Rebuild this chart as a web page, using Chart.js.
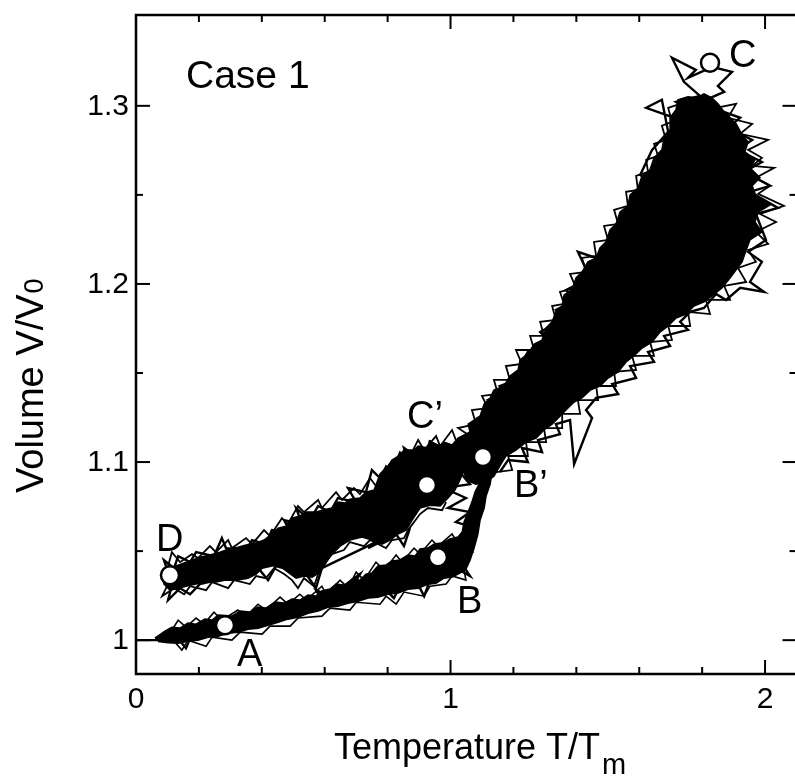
<!DOCTYPE html>
<html><head><meta charset="utf-8">
<script src="https://cdn.jsdelivr.net/npm/chart.js@4.4.1/dist/chart.umd.min.js"></script>
<style>html,body{margin:0;padding:0;background:#fff;overflow:hidden;}canvas{display:block;}</style>
</head><body><canvas id="c" width="800" height="778" style="width:800px;height:778px"></canvas>
<script>
// ---------- DATA (data units T/Tm , V/V0) ----------
const xTickLabels = ["0", "1", "2"];
const xTickValues = [0, 1, 2];
const xMinorTicks = [0.2, 0.4, 0.6, 0.8, 1.2, 1.4, 1.6, 1.8];
const yTickLabels = ["1", "1.1", "1.2", "1.3"];
const yTickValues = [1, 1.1, 1.2, 1.3];
const yMinorTicks = [1.05, 1.15, 1.25];

const markerNames = ["A", "B", "B\u2019", "C", "C\u2019", "D"];
const markerX = [0.283, 0.960, 1.103, 1.825, 0.925, 0.108];
const markerY = [1.0084, 1.0466, 1.1028, 1.3242, 1.0871, 1.0365];

// outline of the dense heating band O -> A -> B -> B'
const heatLowBand = [
 [0.060,1.0011],[0.092,1.0050],[0.114,1.0072],[0.140,1.0068],[0.165,1.0096],[0.191,1.0090],[0.219,1.0118],[0.242,1.0113],
 [0.261,1.0141],[0.305,1.0135],[0.331,1.0163],[0.362,1.0158],[0.388,1.0186],[0.413,1.0180],[0.442,1.0214],[0.471,1.0208],
 [0.496,1.0231],[0.521,1.0225],[0.547,1.0253],[0.572,1.0248],[0.591,1.0276],[0.617,1.0287],[0.636,1.0315],[0.665,1.0309],
 [0.687,1.0343],[0.712,1.0337],[0.731,1.0371],[0.750,1.0377],[0.769,1.0416],[0.795,1.0422],[0.814,1.0444],[0.839,1.0450],
 [0.865,1.0478],[0.887,1.0472],[0.903,1.0512],[0.928,1.0517],[0.948,1.0540],[0.973,1.0545],[0.998,1.0568],[1.024,1.0579],
 [1.037,1.0607],[1.043,1.0663],[1.056,1.0719],[1.068,1.0775],[1.078,1.0831],[1.094,1.0888],[1.107,1.0944],[1.132,1.0944],
 [1.126,1.0876],[1.113,1.0809],[1.107,1.0742],[1.094,1.0674],[1.087,1.0596],[1.075,1.0517],[1.062,1.0449],[1.049,1.0398],
 [1.030,1.0376],[1.005,1.0354],[0.979,1.0348],[0.954,1.0320],[0.928,1.0314],[0.897,1.0292],[0.865,1.0286],[0.833,1.0264],
 [0.801,1.0258],[0.769,1.0241],[0.738,1.0236],[0.706,1.0219],[0.674,1.0207],[0.642,1.0191],[0.610,1.0185],[0.579,1.0163],
 [0.547,1.0151],[0.515,1.0129],[0.483,1.0118],[0.452,1.0101],[0.420,1.0084],[0.388,1.0067],[0.356,1.0061],[0.324,1.0045],
 [0.293,1.0039],[0.261,1.0022],[0.229,1.0016],[0.197,1.0000],[0.165,0.9994],[0.134,0.9983],[0.102,0.9985],[0.070,0.9992]
];
// outline of the dense high-temperature band B' -> C (and back)
const hotBand = [
 [1.037,1.0955],[1.017,1.1039],[1.037,1.1124],[1.062,1.1169],[1.056,1.1213],[1.094,1.1258],[1.107,1.1326],[1.126,1.1360],
 [1.138,1.1404],[1.170,1.1427],[1.189,1.1483],[1.215,1.1517],[1.221,1.1573],[1.246,1.1607],[1.266,1.1663],[1.291,1.1685],
 [1.304,1.1753],[1.323,1.1787],[1.335,1.1843],[1.355,1.1876],[1.361,1.1938],[1.386,1.1966],[1.399,1.2034],[1.418,1.2067],
 [1.437,1.2124],[1.463,1.2146],[1.475,1.2202],[1.494,1.2236],[1.507,1.2303],[1.526,1.2337],[1.539,1.2404],[1.564,1.2438],
 [1.571,1.2500],[1.596,1.2539],[1.609,1.2607],[1.634,1.2640],[1.647,1.2708],[1.672,1.2753],[1.679,1.2820],[1.698,1.2865],
 [1.698,1.2933],[1.717,1.2978],[1.723,1.3034],[1.755,1.3051],[1.781,1.3045],[1.806,1.3067],[1.831,1.3045],
 [1.851,1.3011],[1.870,1.2966],[1.908,1.2899],[1.927,1.2837],[1.946,1.2798],[1.936,1.2742],[1.968,1.2697],[1.952,1.2652],
 [1.984,1.2596],[1.959,1.2551],[1.971,1.2494],[2.016,1.2444],[1.978,1.2404],[1.968,1.2348],[1.990,1.2292],[1.952,1.2247],
 [1.940,1.2191],[1.927,1.2124],[1.908,1.2079],[1.889,1.2034],[1.863,1.1978],[1.831,1.1933],[1.806,1.1899],[1.774,1.1876],
 [1.749,1.1831],[1.717,1.1809],[1.692,1.1764],[1.666,1.1730],[1.641,1.1674],[1.609,1.1640],[1.583,1.1596],[1.558,1.1562],
 [1.533,1.1506],[1.501,1.1472],[1.475,1.1427],[1.444,1.1404],[1.418,1.1360],[1.393,1.1337],[1.367,1.1292],[1.348,1.1258],
 [1.323,1.1213],[1.297,1.1180],[1.272,1.1135],[1.240,1.1112],[1.208,1.1067],[1.176,1.1034],[1.157,1.0978],[1.138,1.0921],
 [1.113,1.0888],[1.081,1.0876],[1.049,1.0899]
];
// outline of the dense cooling band C' -> D
const coolBand = [
 [1.062,1.1169],[1.024,1.1135],[1.005,1.1096],[0.979,1.1112],[0.967,1.1090],[0.941,1.1112],[0.928,1.1079],[0.897,1.1090],
 [0.884,1.1067],[0.852,1.1067],[0.839,1.1039],[0.814,1.1011],[0.801,1.0978],[0.776,1.0933],[0.757,1.0843],[0.731,1.0831],
 [0.712,1.0798],[0.680,1.0792],[0.665,1.0770],[0.642,1.0775],[0.623,1.0742],[0.591,1.0730],[0.572,1.0719],[0.541,1.0719],
 [0.521,1.0697],[0.496,1.0685],[0.477,1.0640],[0.452,1.0629],[0.432,1.0596],[0.407,1.0562],[0.382,1.0545],[0.350,1.0534],
 [0.324,1.0522],[0.293,1.0511],[0.267,1.0494],[0.235,1.0478],[0.203,1.0466],[0.178,1.0449],[0.153,1.0433],[0.127,1.0416],
 [0.102,1.0404],[0.083,1.0371],
 [0.089,1.0315],[0.108,1.0281],[0.134,1.0292],[0.159,1.0303],[0.191,1.0315],[0.223,1.0326],[0.254,1.0326],[0.286,1.0337],
 [0.318,1.0337],[0.356,1.0348],[0.382,1.0371],[0.401,1.0404],[0.432,1.0416],[0.458,1.0416],[0.483,1.0382],[0.509,1.0348],
 [0.534,1.0360],[0.560,1.0354],[0.585,1.0382],[0.617,1.0472],[0.649,1.0528],[0.680,1.0562],[0.719,1.0579],[0.750,1.0562],
 [0.782,1.0539],[0.808,1.0562],[0.833,1.0596],[0.859,1.0618],[0.878,1.0674],[0.903,1.0742],[0.935,1.0758],[0.967,1.0753],
 [0.992,1.0798],[1.014,1.0843],[1.030,1.0899],[1.043,1.0955],[1.056,1.1039]
];
// thin wandering trajectory pieces that stick out of the bands
const trajStart = [
 [0,1.0000],[0.076,1.0000],[0.127,1.0022],[0.159,0.9955],[0.178,1.0034],[0.362,1.0101],[0.591,1.0225],[0.572,1.0281],
 [0.617,1.0247],[0.712,1.0371],[0.693,1.0315],[0.795,1.0281],[0.820,1.0236],[0.839,1.0303],[0.903,1.0292],[0.916,1.0247],
 [0.935,1.0337],[1.005,1.0416],[1.062,1.0360],[1.024,1.0461],[1.068,1.0494],[1.037,1.0528]
];
const lowTopSpikes = [
 [0.114,1.0056],[0.134,1.0112],[0.159,1.0073],[0.191,1.0124],[0.216,1.0090],[0.248,1.0157],[0.273,1.0112],[0.324,1.0169],
 [0.350,1.0135],[0.388,1.0202],[0.413,1.0169],[0.458,1.0242],[0.483,1.0202],[0.521,1.0258],[0.541,1.0225],[0.591,1.0303],
 [0.604,1.0258],[0.649,1.0337],[0.674,1.0292],[0.700,1.0382],[0.725,1.0337],[0.763,1.0438],[0.789,1.0393],[0.827,1.0478],
 [0.846,1.0438],[0.884,1.0517],[0.903,1.0483],[0.941,1.0562],[0.960,1.0528],[1.005,1.0596],[1.017,1.0562]
];
const lowBottomSpikes = [
 [0.121,0.9994],[0.146,0.9944],[0.165,1.0000],[0.223,0.9966],[0.242,1.0017],[0.305,1.0000],[0.331,1.0045],[0.401,1.0034],
 [0.426,1.0079],[0.490,1.0079],[0.515,1.0124],[0.591,1.0135],[0.617,1.0180],[0.680,1.0169],[0.700,1.0213],[0.776,1.0202],
 [0.795,1.0247],[0.827,1.0202],[0.852,1.0270],[0.916,1.0247],[0.935,1.0303],[0.986,1.0315],[1.005,1.0360],[1.049,1.0337],
 [1.043,1.0393]
];
const trajRise = [
 [1.037,1.0562],[1.081,1.0629],[1.017,1.0663],[1.062,1.0719],[0.992,1.0742],[1.049,1.0798],[0.979,1.0854],[1.062,1.0876],
 [1.024,1.0955],[1.094,1.0921],[1.126,1.1000],[1.087,1.1034],[1.145,1.1067]
];
const hotLeftSpikes = [
 [1.062,1.1146],[1.024,1.1191],[1.081,1.1213],[1.068,1.1292],[1.119,1.1303],[1.100,1.1371],[1.151,1.1382],[1.138,1.1461],
 [1.189,1.1461],[1.176,1.1539],[1.227,1.1551],[1.208,1.1629],[1.266,1.1629],[1.253,1.1708],[1.297,1.1708],[1.285,1.1787],
 [1.335,1.1798],[1.323,1.1876],[1.361,1.1888],[1.348,1.1955],[1.399,1.1978],[1.380,1.2056],[1.431,1.2067],[1.418,1.2146],
 [1.463,1.2157],[1.456,1.2236],[1.501,1.2247],[1.488,1.2326],[1.533,1.2337],[1.520,1.2416],[1.564,1.2438],[1.558,1.2517],
 [1.596,1.2528],[1.590,1.2607],[1.628,1.2629],[1.622,1.2697],[1.660,1.2719],[1.647,1.2787],[1.685,1.2809],[1.672,1.2888],
 [1.704,1.2910],[1.692,1.2989],[1.730,1.3011]
];
const hotRightSpikes = [
 [1.844,1.2989],[1.908,1.3011],[1.882,1.2933],[1.959,1.2899],[1.921,1.2843],[2.010,1.2809],[1.946,1.2753],[1.990,1.2708],
 [1.959,1.2663],[2.029,1.2652],[1.971,1.2596],[2.016,1.2551],[1.978,1.2506],[2.060,1.2438],[1.984,1.2393],[2.035,1.2348],
 [1.971,1.2292],[2.010,1.2225],[1.946,1.2191],[1.971,1.2124],[1.914,1.2090],[1.940,1.2011],[1.870,1.1989],[1.889,1.1910],
 [1.812,1.1910],[1.825,1.1831],[1.755,1.1843],[1.762,1.1764],[1.692,1.1764],[1.704,1.1685],[1.634,1.1674],[1.647,1.1596],
 [1.577,1.1596],[1.590,1.1517],[1.520,1.1506],[1.526,1.1427],[1.463,1.1427],[1.469,1.1348],[1.405,1.1348],[1.412,1.1270],
 [1.355,1.1270],[1.355,1.1191],[1.297,1.1191],[1.304,1.1112],[1.240,1.1112],[1.246,1.1034],[1.183,1.1034],[1.196,1.0955],
 [1.145,1.0944]
];
const trajLeftEdge = [
 [1.730,1.2921],[1.622,1.2989],[1.672,1.3034],[1.692,1.2854],[1.641,1.2753],[1.603,1.2612],[1.647,1.2551],[1.564,1.2404],
 [1.488,1.2213],[1.520,1.2157],[1.463,1.2146],[1.405,1.2180],[1.444,1.2034],[1.367,1.1966],[1.396,1.1910],[1.335,1.1854],
 [1.355,1.1798],[1.285,1.1730],[1.316,1.1674],[1.246,1.1618],[1.227,1.1562],[1.266,1.1528],[1.208,1.1461],[1.157,1.1427],
 [1.183,1.1393],[1.119,1.1348],[1.145,1.1292],[1.087,1.1247],[1.113,1.1191],[1.062,1.1146]
];
const trajRightEdge = [
 [1.851,1.2978],[1.921,1.2933],[1.882,1.2876],[1.959,1.2809],[1.914,1.2753],[1.990,1.2685],[1.933,1.2629],[2.016,1.2551],
 [1.952,1.2517],[2.041,1.2427],[1.971,1.2393],[2.003,1.2247],[1.946,1.2180],[1.990,1.2124],[1.952,1.2011],[1.997,1.1955],
 [1.921,1.1978],[1.876,1.1910],[1.844,1.1944],[1.806,1.1865],[1.762,1.1843],[1.730,1.1787],[1.755,1.1742],[1.679,1.1708],
 [1.698,1.1652],[1.628,1.1618],[1.647,1.1562],[1.571,1.1539],[1.590,1.1472],[1.514,1.1438],[1.533,1.1382],[1.463,1.1360],
 [1.431,1.1292],[1.450,1.1247],[1.393,1.0989],[1.380,1.1236],[1.335,1.1213],[1.348,1.1157],[1.278,1.1124],[1.291,1.1056],
 [1.227,1.1079],[1.246,1.1000],[1.183,1.1011],[1.157,1.0944]
];
const trajTop = [
 [1.762,1.2978],[1.717,1.3022],[1.793,1.3056],[1.742,1.3135],[1.704,1.3270],[1.780,1.3202],[1.755,1.3157],[1.812,1.3202],
 [1.825,1.3242],[1.844,1.3213],[1.895,1.3191],[1.850,1.3112],[1.870,1.3079],[1.812,1.3034],[1.831,1.2978]
];
const coolTopSpikes = [
 [0.102,1.0416],[0.114,1.0494],[0.140,1.0438],[0.178,1.0483],[0.197,1.0461],[0.235,1.0528],[0.254,1.0494],[0.293,1.0562],
 [0.305,1.0517],[0.350,1.0573],[0.369,1.0539],[0.407,1.0618],[0.426,1.0584],[0.464,1.0685],[0.483,1.0652],[0.515,1.0753],
 [0.534,1.0719],[0.579,1.0787],[0.591,1.0742],[0.636,1.0831],[0.655,1.0787],[0.693,1.0854],[0.712,1.0820],[0.744,1.0910],
 [0.763,1.0865],[0.795,1.0978],[0.814,1.0944],[0.839,1.1056],[0.865,1.1011],[0.897,1.1124],[0.916,1.1067],[0.954,1.1146],
 [0.967,1.1090],[1.005,1.1180],[1.017,1.1124]
];
const coolBottomSpikes = [
 [0.102,1.0315],[0.083,1.0247],[0.121,1.0292],[0.153,1.0258],[0.172,1.0303],[0.223,1.0281],[0.242,1.0326],[0.293,1.0292],
 [0.312,1.0337],[0.362,1.0315],[0.382,1.0360],[0.413,1.0348],[0.439,1.0404],[0.471,1.0371],[0.496,1.0337],[0.515,1.0292],
 [0.534,1.0348],[0.566,1.0303],[0.579,1.0371],[0.604,1.0438],[0.623,1.0483],[0.661,1.0506],[0.680,1.0551],[0.725,1.0528],
 [0.744,1.0562],[0.795,1.0517],[0.814,1.0562],[0.852,1.0573],[0.865,1.0618],[0.903,1.0708],[0.928,1.0742],[0.973,1.0730],
 [0.986,1.0775]
];
const trajCool = [
 [0.935,1.1124],[0.916,1.1000],[0.852,1.1079],[0.871,1.0955],[0.814,1.0978],[0.776,1.0910],[0.750,1.0955],[0.731,1.0831],
 [0.674,1.0854],[0.700,1.0775],[0.642,1.0798],[0.617,1.0719],[0.579,1.0753],[0.553,1.0674],[0.509,1.0742],[0.528,1.0652],
 [0.471,1.0674],[0.490,1.0607],[0.432,1.0618],[0.413,1.0539],[0.369,1.0562],[0.350,1.0506],[0.286,1.0517],[0.273,1.0573],
 [0.248,1.0472],[0.191,1.0494],[0.172,1.0438],[0.134,1.0472],[0.121,1.0404],[0.089,1.0449],[0.108,1.0348]
];
const trajCoolLow = [
 [0.114,1.0309],[0.102,1.0225],[0.140,1.0292],[0.172,1.0258],[0.203,1.0315],[0.394,1.0393],[0.420,1.0337],[0.445,1.0416],
 [0.541,1.0371],[0.572,1.0292],[0.591,1.0404],[0.776,1.0562],[0.738,1.0517],[0.827,1.0596],[0.852,1.0528],[0.871,1.0629]
];

// ---------- STYLE ----------
const FONT = '"Liberation Sans", Arial, Helvetica, sans-serif';
const pts = a => a.map(p => ({x: p[0], y: p[1]}));
const band = a => ({data: pts(a), borderColor: '#000', backgroundColor: '#000', borderWidth: 1.5,
  pointRadius: 0, fill: 'shape', tension: 0, order: 2});
const thin = (a, w) => ({data: pts(a), borderColor: '#000', borderWidth: w || 2.4, pointRadius: 0, fill: false,
  tension: 0, order: 1, borderJoinStyle: 'miter'});
const labelOffsets = [[12,41],[19,56],[31,40],[19,4],[-20,-57],[-14,-24]]; // px from marker to text origin

const decor = {
  id: 'decor',
  afterDraw(chart) {
    const {ctx, chartArea: a, scales: {x, y}} = chart;
    ctx.save();
    ctx.strokeStyle = '#000'; ctx.fillStyle = '#000';
    ctx.lineWidth = 2.5;
    ctx.strokeRect(a.left, a.top, a.right - a.left, a.bottom - a.top);
    ctx.lineWidth = 2;
    const seg = (x1, y1, x2, y2) => { ctx.beginPath(); ctx.moveTo(x1, y1); ctx.lineTo(x2, y2); ctx.stroke(); };
    xTickValues.forEach(v => { const p = x.getPixelForValue(v); seg(p, a.bottom, p, a.bottom - 14); seg(p, a.top, p, a.top + 14); });
    xMinorTicks.forEach(v => { const p = x.getPixelForValue(v); seg(p, a.bottom, p, a.bottom - 7); seg(p, a.top, p, a.top + 7); });
    yTickValues.forEach(v => { const p = y.getPixelForValue(v); seg(a.left, p, a.left + 14, p); seg(a.right, p, a.right - 14, p); });
    yMinorTicks.forEach(v => { const p = y.getPixelForValue(v); seg(a.left, p, a.left + 7, p); seg(a.right, p, a.right - 7, p); });
    ctx.font = '30px ' + FONT;
    ctx.textAlign = 'center'; ctx.textBaseline = 'alphabetic';
    xTickValues.forEach((v, i) => ctx.fillText(xTickLabels[i], x.getPixelForValue(v), 708));
    ctx.textAlign = 'right'; ctx.textBaseline = 'middle';
    yTickValues.forEach((v, i) => ctx.fillText(yTickLabels[i], 129, y.getPixelForValue(v) + 1));
    ctx.textAlign = 'left'; ctx.textBaseline = 'alphabetic';
    ctx.font = '36px ' + FONT;
    const xt = 'Temperature T/T';
    ctx.fillText(xt, 334, 759);
    const w = ctx.measureText(xt).width;
    ctx.font = '29px ' + FONT;
    ctx.fillText('m', 334 + w + 2, 774);
    ctx.save();
    ctx.translate(43, 493); ctx.rotate(-Math.PI / 2);
    ctx.font = '38px ' + FONT;
    const yt = 'Volume V/V';
    ctx.fillText(yt, 0, 0);
    const wy = ctx.measureText(yt).width;
    ctx.font = '27px ' + FONT;
    ctx.fillText('0', wy + 1, 0);
    ctx.restore();
    ctx.font = '39px ' + FONT;
    ctx.fillText('Case 1', 186, 88);
    ctx.font = '38px ' + FONT;
    markerNames.forEach((n, i) => {
      ctx.fillText(n, x.getPixelForValue(markerX[i]) + labelOffsets[i][0], y.getPixelForValue(markerY[i]) + labelOffsets[i][1]);
    });
    ctx.restore();
  }
};

new Chart(document.getElementById('c'), {
  type: 'line',
  data: {
    datasets: [
      {data: markerX.map((v, i) => ({x: v, y: markerY[i]})), showLine: false, pointRadius: 9,
       pointBackgroundColor: '#fff', pointBorderColor: '#000', pointBorderWidth: 2.5, order: -1},
      thin(trajStart), thin(lowTopSpikes, 1.6), thin(lowBottomSpikes, 1.6), thin(trajRise),
      thin(hotLeftSpikes, 1.8), thin(hotRightSpikes, 1.8), thin(trajLeftEdge), thin(trajRightEdge), thin(trajTop),
      thin(coolTopSpikes, 1.8), thin(coolBottomSpikes, 1.8), thin(trajCool), thin(trajCoolLow),
      band(heatLowBand), band(hotBand), band(coolBand)
    ]
  },
  options: {
    responsive: false, animation: false, events: [],
    layout: {autoPadding: false, padding: {left: 136, top: 15, right: 3.5, bottom: 104}},
    plugins: {legend: {display: false}, tooltip: {enabled: false}},
    scales: {
      x: {type: 'linear', min: 0, max: 2.1, display: false},
      y: {type: 'linear', min: 0.981, max: 1.351, display: false}
    }
  },
  plugins: [decor]
});
</script>
</body></html>
